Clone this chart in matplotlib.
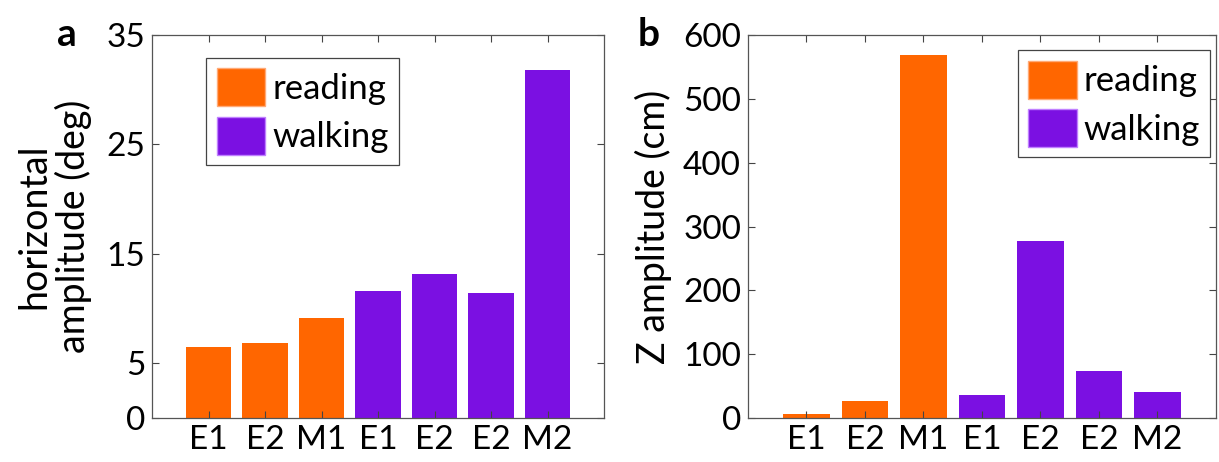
import matplotlib
matplotlib.use("Agg")
import matplotlib.pyplot as plt
from matplotlib.patches import Patch

plt.rcParams['font.family'] = ['Lato', 'DejaVu Sans']

# data
labels = ['E1', 'E2', 'M1', 'E1', 'E2', 'E2', 'M2']
groups = ['reading', 'reading', 'reading', 'walking', 'walking', 'walking', 'walking']
horiz_amp = [6.5, 6.9, 9.1, 11.6, 13.2, 11.4, 31.8]
z_amp = [6, 26, 569, 36, 277, 74, 40]
horiz_ticks = [0, 5, 15, 25, 35]
z_ticks = [0, 100, 200, 300, 400, 500, 600]

colors = {'reading': '#ff6600', 'walking': '#7b10e2'}
bar_colors = [colors[g] for g in groups]
xpos = list(range(1, len(labels) + 1))

fig = plt.figure(figsize=(12.19, 4.62), dpi=100)
ax1 = fig.add_axes([0.1247, 0.0952, 0.3708, 0.829])
ax2 = fig.add_axes([0.6136, 0.0952, 0.3839, 0.829])

FS = 24


def style(ax):
    ax.set_xlim(0, 8)
    ax.set_xticks(xpos)
    ax.set_xticklabels(labels)
    ax.tick_params(direction='in', length=5, width=0.8, color='#444444',
                   top=True, right=True, labelsize=FS, pad=5)
    for s in ax.spines.values():
        s.set_color('#555555')
        s.set_linewidth(0.9)
    handles = [Patch(facecolor=colors['reading'], edgecolor='#ffaa77', label='reading'),
               Patch(facecolor=colors['walking'], edgecolor='#c080ff', label='walking')]
    return handles


def legend(ax, handles, anchor, loc):
    leg = ax.legend(handles=handles, loc=loc, bbox_to_anchor=anchor,
                    fontsize=FS + 1, handlelength=1.4, handleheight=1.3, handletextpad=0.2,
                    labelspacing=0.3, borderpad=0.3, borderaxespad=0, fancybox=False,
                    edgecolor='#444444', framealpha=1)
    leg.get_frame().set_linewidth(0.9)
    return leg


handles = style(ax1)
ax1.bar(xpos, horiz_amp, width=0.8, color=bar_colors, edgecolor='none')
ax1.set_ylim(0, 35)
ax1.set_yticks(horiz_ticks)
ax1.set_ylabel('horizontal\namplitude (deg)', fontsize=FS + 3, linespacing=1.1, labelpad=10)
legend(ax1, handles, (0.12, 0.94), 'upper left')
fig.text(0.047, 0.925, 'a', fontsize=28, fontweight='bold', va='center')

style(ax2)
ax2.bar(xpos, z_amp, width=0.8, color=bar_colors, edgecolor='none')
ax2.set_ylim(0, 600)
ax2.set_yticks(z_ticks)
ax2.set_ylabel('Z amplitude (cm)', fontsize=FS + 3, labelpad=8)
legend(ax2, handles, (0.988, 0.96), 'upper right')
fig.text(0.523, 0.925, 'b', fontsize=28, fontweight='bold', va='center')

fig.savefig('out.png', dpi=100)
